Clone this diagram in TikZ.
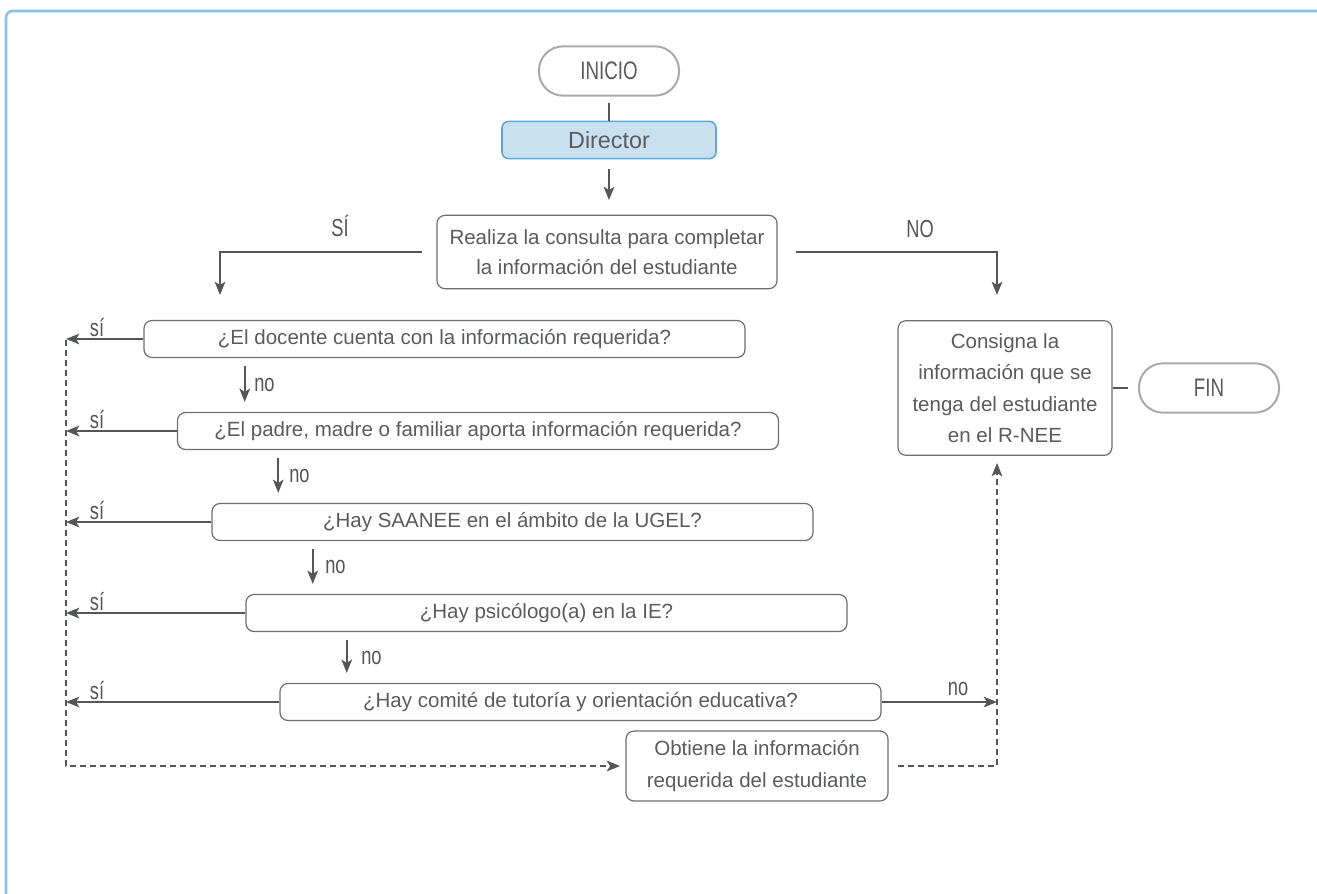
\documentclass[tikz,border=0pt]{standalone}
\usepackage{fontspec}
\setmainfont{Liberation Sans}
\newfontfamily\condfont[FakeStretch=0.74]{Liberation Sans}
\usetikzlibrary{arrows.meta}
\definecolor{textgrey}{HTML}{5A5B5D}
\definecolor{linegrey}{HTML}{55565A}
\definecolor{boxgrey}{HTML}{6D6E70}
\definecolor{pillgrey}{HTML}{A7A9AC}
\definecolor{dirfill}{HTML}{C9E0F0}
\definecolor{dirline}{HTML}{5AA9DC}
\definecolor{frameblue}{HTML}{89C3E6}
\begin{document}
\begin{tikzpicture}[
x=0.75pt, y=-0.75pt,
every node/.style={text=textgrey, align=center, inner sep=0pt, font=\fontsize{15.4}{22.5}\selectfont},
box/.style={draw=boxgrey, line width=0.9pt, rounded corners=6pt, minimum width=450.75pt, minimum height=27.75pt},
pill/.style={draw=pillgrey, line width=1.5pt, rounded corners=18pt, minimum width=105pt, minimum height=37pt, font=\condfont\fontsize{19}{19}\selectfont},
dirbox/.style={draw=dirline, fill=dirfill, line width=1.2pt, rounded corners=5pt, minimum width=160.5pt, minimum height=28pt, font=\fontsize{17.5}{17.5}\selectfont},
lab/.style={text=linegrey, font=\condfont\fontsize{18.5}{18.5}\selectfont},
plain/.style={draw=linegrey, line width=1.3pt},
arr/.style={draw=linegrey, line width=1.4pt, -{Stealth[length=10pt, width=8pt, inset=2.5pt]}},
dasharr/.style={draw=linegrey, line width=1.4pt, dash pattern=on 4.5pt off 3pt, -{Stealth[length=10pt, width=8pt, inset=2.5pt]}}
]
\useasboundingbox (0,0) rectangle (1317,893);
% marco
\draw[frameblue, line width=2pt, rounded corners=5pt] (6,900) -- (6,11) -- (1325,11);

% inicio y consulta
\node[pill] (inicio) at (609,71) {INICIO};
\node[dirbox] (director) at (609,140) {Director};
\node[box, minimum width=255pt, minimum height=55pt] (realiza) at (607,252) {Realiza la consulta para completar\\la información del estudiante};
\node[lab] (silab) at (340,226) {SÍ};
\node[lab] (nolab) at (920,229) {NO};
\coordinate (sidown) at (220,295);
\coordinate (nodown) at (997,295);

% preguntas
\node[box] (q1) at (444.5,339) {¿El docente cuenta con la información requerida?};
\node[box] (q2) at (478,431) {¿El padre, madre o familiar aporta información requerida?};
\node[box] (q3) at (512.5,522) {¿Hay SAANEE en el ámbito de la UGEL?};
\node[box] (q4) at (546.5,613) {¿Hay psicólogo(a) en la IE?};
\node[box] (q5) at (580.5,702) {¿Hay comité de tutoría y orientación educativa?};

\node[lab] (si1) at (97,328) {sí};
\node[lab] (si2) at (97,420) {sí};
\node[lab] (si3) at (97,511) {sí};
\node[lab] (si4) at (97,602) {sí};
\node[lab] (si5) at (97,691) {sí};
\node[lab, anchor=west] (no1) at (254,385) {no};
\node[lab, anchor=west] (no2) at (289,476) {no};
\node[lab, anchor=west] (no3) at (325,567) {no};
\node[lab, anchor=west] (no4) at (361,658) {no};
\node[lab] (no5) at (958,689) {no};

% salida
\node[box, minimum width=160.5pt, minimum height=101pt, font=\fontsize{15.4}{23.5}\selectfont] (consigna) at (1005,388) {Consigna la\\información que se\\tenga del estudiante\\en el R-NEE};
\node[pill] (fin) at (1209,388) {FIN};
\node[box, minimum width=196.5pt, minimum height=52.5pt, font=\fontsize{15.4}{24.5}\selectfont] (obtiene) at (757,766) {Obtiene la información\\requerida del estudiante};
\coordinate (sicol) at (66,340);
\coordinate (nocol) at (997,702);
\coordinate (upcol) at (997,463);

% conectores
\draw[plain, shorten <=5pt] (inicio) -- (director);
\draw[arr] ([yshift=-7pt]director.south) -- ([yshift=11pt]director.south |- realiza.north);
\draw[arr, shorten <=11pt] (realiza.west) -| (sidown);
\draw[arr, shorten <=14pt] (realiza.east) -| (nodown);

\draw[arr] (q1.west) -- (q1.west -| sicol);
\draw[arr] (q2.west) -- (q2.west -| sicol);
\draw[arr] (q3.west) -- (q3.west -| sicol);
\draw[arr] (q4.west) -- (q4.west -| sicol);
\draw[arr] (q5.west) -- (q5.west -| sicol);

\draw[arr] ([xshift=76pt, yshift=-6pt]q1.south west) -- ([xshift=76pt, yshift=7.5pt]q1.south west |- q2.north);
\draw[arr] ([xshift=76pt, yshift=-6pt]q2.south west) -- ([xshift=76pt, yshift=7.5pt]q2.south west |- q3.north);
\draw[arr] ([xshift=76pt, yshift=-6pt]q3.south west) -- ([xshift=76pt, yshift=7.5pt]q3.south west |- q4.north);
\draw[arr] ([xshift=76pt, yshift=-6pt]q4.south west) -- ([xshift=76pt, yshift=7.5pt]q4.south west |- q5.north);
\draw[arr] (q5.east) -- (nocol);

\draw[dasharr, shorten >=4pt] (sicol) |- (obtiene.west);
\draw[dasharr] ([xshift=7pt]obtiene.east) -| (upcol);
\draw[plain, shorten >=7.5pt] (consigna) -- (fin);
\end{tikzpicture}
\end{document}
